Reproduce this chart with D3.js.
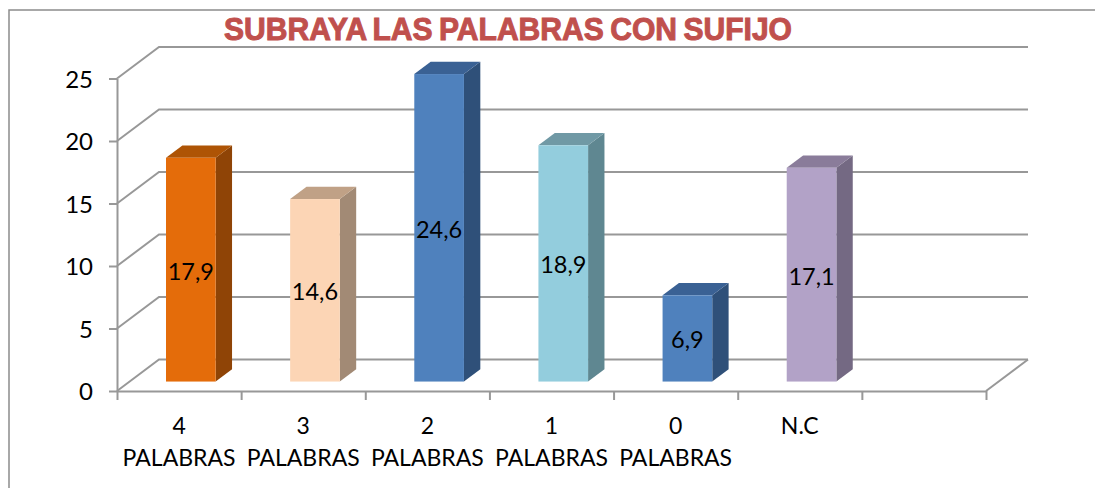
<!DOCTYPE html>
<meta charset="utf-8">
<style>
    html, body { margin: 0; background: #fff; }
    svg { display: block; }
    .grid { fill: none; stroke: #989898; stroke-width: 2; }
    .axis path, .axis line { stroke: #989898; stroke-width: 2; }
    .axis text, .bar-label { font-family: Lato, sans-serif; fill: #000; }
</style>
<body>
<script src="https://cdn.jsdelivr.net/npm/d3@7"></script>
<script>
    const titleText = "SUBRAYA LAS PALABRAS CON SUFIJO";
    const categories = ["4 PALABRAS", "3 PALABRAS", "2 PALABRAS", "1 PALABRAS", "0 PALABRAS", "N.C", ""];
    const values = [17.9, 14.6, 24.6, 18.9, 6.9, 17.1];
    const labels = ["17,9", "14,6", "24,6", "18,9", "6,9", "17,1"];
    const yTicks = [0, 5, 10, 15, 20, 25];
    const frontColors = ["#e46c0a", "#fcd5b5", "#4f81bd", "#93cddd", "#4f81bd", "#b2a2c7"];
    const topColors = ["#ae5405", "#c0a186", "#3a6194", "#7099a5", "#3a6194", "#8a7c9a"];
    const sideColors = ["#8f4406", "#a28a75", "#2f5079", "#5f8791", "#2f5079", "#746983"];

    const width = 1095;
    const height = 488;

    // the 3d box: depth 0 is the front of the floor, depth 1 the back wall
    const depthX = 42;
    const depthY = -31.5;
    const barFront = 0.28;
    const barBack = 0.67;

    const x = d3.scaleBand().domain(categories).range([117, 986]);
    const y = d3.scaleLinear().domain([0, 25]).range([391, 78.5]);
    const xEdges = d3.scaleLinear().domain([0, categories.length]).range([117, 986]);

    const svg = d3.select("body").append("svg")
        .attr("width", width)
        .attr("height", height);

    // outer frame, only top and left show
    svg.append("path")
        .attr("d", "M9,488V10H1095")
        .attr("fill", "none")
        .attr("stroke", "#8c8c8c")
        .attr("stroke-width", 1.5);

    svg.append("text")
        .attr("x", 508)
        .attr("y", 39.5)
        .attr("text-anchor", "middle")
        .attr("textLength", 568)
        .attr("lengthAdjust", "spacingAndGlyphs")
        .style("font", "bold 32px 'Liberation Sans', sans-serif")
        .style("word-spacing", "-2px")
        .style("fill", "#c0504d")
        .style("stroke", "#c0504d")
        .style("stroke-width", 1)
        .text(titleText);

    // gridlines: side wall then back wall
    svg.append("g").selectAll("path")
        .data(yTicks)
        .join("path")
        .attr("class", "grid")
        .attr("d", d => `M117,${y(d)}L${117 + depthX},${y(d) + depthY}H${986 + depthX}`);

    // right edge of the floor
    svg.append("path")
        .attr("class", "grid")
        .attr("d", `M986,${y(0)}L${986 + depthX},${y(0) + depthY}`);

    const yAxis = d3.axisLeft(y).tickValues(yTicks).tickSize(8).tickPadding(16).tickSizeOuter(0);
    const gY = svg.append("g")
        .attr("class", "axis")
        .attr("transform", "translate(117,0)")
        .call(yAxis);
    gY.selectAll("text").style("font-size", "24px").attr("dy", "0.36em");

    const xAxis = d3.axisBottom(xEdges).tickValues(d3.range(categories.length + 1)).tickSize(9).tickFormat("").tickSizeOuter(0);
    svg.append("g")
        .attr("class", "axis")
        .attr("transform", `translate(0,${y(0)})`)
        .call(xAxis);

    // category labels, broken on two lines
    const catLabels = svg.append("g")
        .attr("class", "axis")
        .selectAll("text")
        .data(categories)
        .join("text")
        .attr("text-anchor", "middle")
        .style("font-size", "23px");
    catLabels.append("tspan")
        .attr("x", d => x(d) + x.bandwidth() / 2)
        .attr("y", 434)
        .text(d => d.split(" ")[0]);
    catLabels.append("tspan")
        .attr("x", d => x(d) + x.bandwidth() / 2)
        .attr("y", 466)
        .text(d => d.split(" ")[1] || "");

    // bars
    const barWidth = x.bandwidth() * 0.4;
    const bars = svg.append("g").selectAll("g")
        .data(values)
        .join("g");

    const left = i => x(categories[i]) + (x.bandwidth() - barWidth) / 2 + depthX * barFront;
    const base = depthY * 0.3;
    const dx = depthX * (barBack - barFront);
    const dy = depthY * (barBack - barFront);

    bars.append("path")
        .attr("fill", (d, i) => sideColors[i])
        .attr("d", (d, i) => `M${left(i) + barWidth},${y(0) + base}v${y(d) - y(0)}l${dx},${dy}v${y(0) - y(d)}Z`);
    bars.append("path")
        .attr("fill", (d, i) => topColors[i])
        .attr("d", (d, i) => `M${left(i)},${y(d) + base}h${barWidth}l${dx},${dy}h${-barWidth}Z`);
    bars.append("rect")
        .attr("fill", (d, i) => frontColors[i])
        .attr("x", (d, i) => left(i))
        .attr("y", d => y(d) + base)
        .attr("width", barWidth)
        .attr("height", d => y(0) - y(d));

    bars.append("text")
        .attr("class", "bar-label")
        .attr("text-anchor", "middle")
        .attr("x", (d, i) => left(i) + barWidth / 2)
        .attr("y", d => (y(d) + y(0)) / 2 + base + 10)
        .style("font-size", "23.5px")
        .text((d, i) => labels[i]);
</script>
</body>
</html>
